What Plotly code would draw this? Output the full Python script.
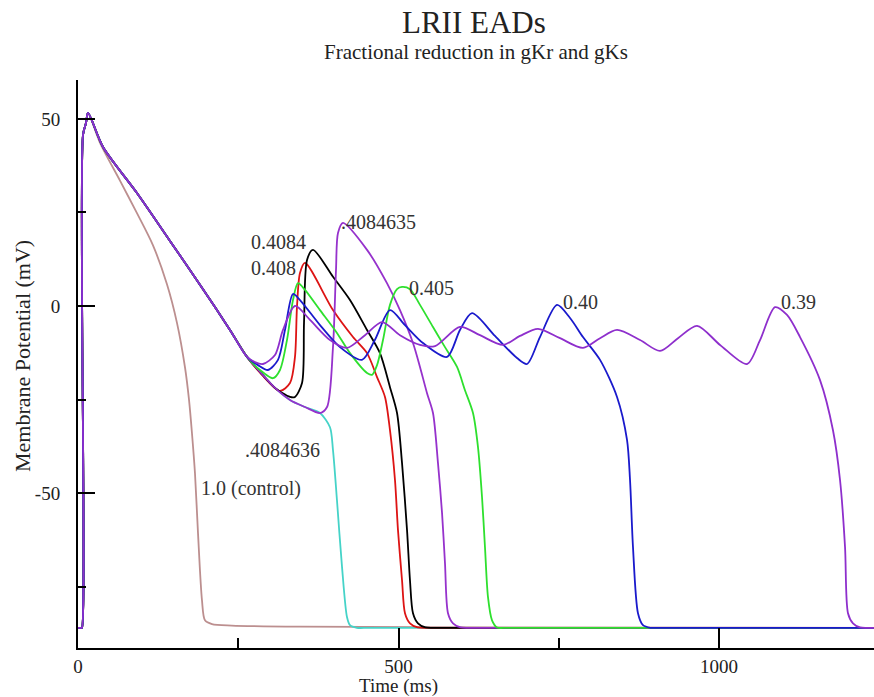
import plotly.graph_objects as go

# ---------------- data (time in ms, membrane potential in mV) ----------------
# shared upstroke + early plateau of every reduced-gK trace
t_common = [0, 5, 6.2, 7.8, 12.5, 15.6, 39, 92, 143.5, 195, 237.1, 263.7]
v_common = [-86, -86, -86, 45.7, 48.9, 51.6, 42.5, 30.2, 17.4, 4.5, -6.4, -13.6]

# lower envelope shared by the late-EAD traces
t_env = [283.9, 307.3, 330.7, 354.1, 377.5]
v_env = [-17.6, -21.9, -25.1, -27.0, -28.6]

# 1.0 (control)
t_control = [0, 5, 6.2, 7.8, 12.5, 15.6, 34.3, 65.5, 92, 117, 138.8, 154.4, 167, 173.2,
             177.8, 182.5, 187.2, 193.4, 198.1, 209, 240, 346, 700, 1242]
v_control = [-86, -86, -86, 45.7, 48.9, 51.6, 43.6, 33.5, 24.8, 16.2, 5.8, -4.5, -16.5, -25.1,
             -34, -44.7, -60.7, -78.6, -84, -85, -85.4, -85.7, -85.9, -86]

# .4084636
t_4084636 = [393.1, 397.8, 404, 411.9, 419.7, 424.3, 435, 455, 1242]
v_4084636 = [-32.4, -38.5, -51.9, -69.8, -83.2, -85.3, -86, -86, -86]

# 0.408
t_408 = [286, 315.1, 330.7, 338.5, 341.6, 346.3, 354.1, 397.8, 429, 450.9, 466.5, 478.9,
         486.7, 494.5, 499.2, 505.5, 510.1, 517.9, 530, 550, 1242]
v_408 = [-18.2, -22.7, -20.6, -13.6, -0.3, 8.8, 11.5, -1.1, -8.3, -12.6, -19, -24.3,
         -33.2, -46.5, -59.9, -73.3, -82.1, -84.8, -85.9, -86, -86]

# 0.4084
t_4084 = [283.9, 307.3, 330.7, 338.5, 349.5, 352.6, 357.3, 366.6, 397.8, 424.3, 450.9,
          471.1, 486.7, 497.7, 505.5, 513.3, 517.9, 522.6, 530.4, 542, 560, 1242]
v_4084 = [-17.6, -21.9, -24.3, -24.3, -20.6, -4.5, 12.3, 15.0, 7.8, 1.6, -6.4,
          -12.6, -21.7, -28.6, -42, -59.9, -73.3, -82.1, -84.8, -85.9, -86, -86]

# .4084635
t_4084635 = [388.5, 397.8, 402.5, 405.6, 413.4, 450.9, 482, 502.3, 522.6, 533.5, 544.5,
             553.8, 561.6, 567.9, 572.5, 577.2, 585, 597, 615, 1242]
v_4084635 = [-27, -11, 9.6, 19.5, 22.2, 15, 6.1, -1.1, -9.9, -16.3, -23.3,
             -28.6, -42, -55.3, -68.7, -82.1, -84.8, -85.9, -86, -86]

# 0.405
t_405 = [283.9, 304.2, 315.1, 326, 335.4, 343.2, 354.1, 377.5, 404, 424.3, 450.9, 458.7,
         466.5, 475.8, 486.7, 497.7, 505.5, 517.9, 533.5, 553.8, 572.5, 591.3, 603.7,
         616.2, 624, 630.3, 634.9, 639.6, 645.9, 653.7, 670, 1242]
v_405 = [-17.1, -19.3, -17.1, -9.1, 1.6, 6.1, 4.3, -1.1, -7.2, -12.6, -17.9, -18.4,
         -15.8, -9.1, 0.3, 4.5, 5.1, 4.5, 0.3, -5.6, -11, -16.3, -22.5,
         -28.6, -37.7, -51.1, -64.4, -77.8, -84, -85.9, -86, -86]

# 0.40
t_40 = [280.8, 296.4, 312, 322.9, 335.4, 346.3, 377.5, 408.7, 443, 463.1, 486.7, 510.1,
        538.2, 575.7, 595.9, 614.7, 650.5, 684.9, 700.5, 720.7, 747.3, 767.6, 787.8,
        814.4, 840.9, 856.5, 861.2, 865.8, 873.6, 881.4, 893, 910, 1242]
v_40 = [-15.8, -17.1, -14.4, -6.4, 3.2, 1.6, -5.1, -11, -14.4, -9.1, -1.1, -5.1,
        -9.9, -13.6, -6.4, -1.9, -8.0, -13.9, -15.5, -8.3, 0.3, -3.2, -8.3,
        -14.4, -24.3, -35.8, -46.5, -64.4, -82.1, -85.3, -86, -86, -86]

# 0.39
t_39 = [276.1, 288.6, 307.3, 319.8, 338.5, 361.9, 393.1, 419.7, 447.7, 474.3, 502.3,
        533.5, 557, 595.9, 627.1, 663, 689.5, 717.6, 752, 787.8, 814.4, 840.9, 876.8,
        908, 936, 965.7, 1001.6, 1043.7, 1064, 1087.4, 1106.1, 1126.4, 1157.6, 1177.8,
        1188.8, 1196.6, 1201.2, 1209, 1220, 1234, 1242]
v_39 = [-15, -15.5, -13.1, -6.4, 0, -3.7, -9.1, -11.2, -7.8, -4.3, -7.8,
        -10.4, -10.7, -5.6, -7.8, -10.4, -8, -6.1, -8.6, -11.2, -8.6, -6.4, -9.1,
        -12, -8.6, -5.3, -10.4, -15.5, -9.1, -0.3, -2.4, -8.3, -19.8, -33.2,
        -46.5, -64.4, -82.1, -84.8, -85.9, -86, -86]

# curve labels: text, time, potential
label_text = ["0.4084", "0.408", ".4084635", "0.405", "0.40", "0.39", ".4084636", "1.0 (control)"]
label_t = [266, 266, 407, 513, 754, 1094, 258, 188]
label_v = [17.1, 10.2, 22.5, 4.8, 1.1, 1.1, -38.5, -48.9]

# axis ticks
x_ticks = [0, 500, 1000]
x_minor = [250, 750]
y_ticks = [-50, 0, 50]
y_ticktext = ["-50", "0", "50"]
y_minor = [-75, -25, 25]

# ---------------- figure ----------------
series = [
    ("1.0 (control)", t_control, v_control, "#bc8f8f"),
    (".4084636", t_common + t_env + t_4084636, v_common + v_env + v_4084636, "#45d3c8"),
    ("0.408", t_common + t_408, v_common + v_408, "#dd1414"),
    ("0.4084", t_common + t_4084, v_common + v_4084, "#000000"),
    (".4084635", t_common + t_env + t_4084635, v_common + v_env + v_4084635, "#9632cc"),
    ("0.405", t_common + t_405, v_common + v_405, "#2ee02e"),
    ("0.40", t_common + t_40, v_common + v_40, "#1a1acc"),
    ("0.39", t_common + t_39, v_common + v_39, "#8e2fcc"),
]

fig = go.Figure()
for name, t, v, c in series:
    fig.add_trace(go.Scatter(x=t, y=v, mode="lines", name=name,
                             line=dict(color=c, width=1.8, shape="spline", smoothing=0.8),
                             hoverinfo="skip"))

SERIF = "Liberation Serif, Times New Roman, serif"

for txt, tx, vy in zip(label_text, label_t, label_v):
    fig.add_annotation(x=tx, y=vy, xref="x", yref="y", text=txt, showarrow=False,
                       xanchor="left", yanchor="middle",
                       font=dict(family=SERIF, size=20, color="#333333"))

fig.add_annotation(x=0.4975, y=1.102, xref="paper", yref="paper", text="LRII EADs",
                   showarrow=False, xanchor="center", yanchor="middle",
                   font=dict(family=SERIF, size=31, color="#222222"))
fig.add_annotation(x=0.5, y=1.049, xref="paper", yref="paper",
                   text="Fractional reduction in gKr and gKs",
                   showarrow=False, xanchor="center", yanchor="middle",
                   font=dict(family=SERIF, size=21, color="#222222"))
fig.add_annotation(x=500, y=-0.067, xref="x", yref="paper", text="Time (ms)",
                   showarrow=False, xanchor="center", yanchor="middle",
                   font=dict(family=SERIF, size=19, color="#222222"))
fig.add_annotation(x=-0.0704, y=0.514, xref="paper", yref="paper",
                   text="Membrane Potential (mV)", textangle=-90,
                   showarrow=False, xanchor="center", yanchor="middle",
                   font=dict(family=SERIF, size=22, color="#222222"))

axis_common = dict(showline=True, linecolor="black", linewidth=2, mirror=False,
                   showgrid=False, zeroline=False, ticks="inside", tickcolor="black",
                   tickwidth=2, tickfont=dict(family=SERIF, size=19, color="#222222"))

fig.update_xaxes(range=[0, 1241.8], tickvals=x_ticks, ticklen=20,
                 minor=dict(tickvals=x_minor, ticks="inside", ticklen=10,
                            tickcolor="black", tickwidth=2),
                 **axis_common)
fig.update_yaxes(range=[-91.4, 60.4], tickvals=y_ticks, ticktext=y_ticktext, ticklen=17,
                 ticklabelstandoff=12,
                 minor=dict(tickvals=y_minor, ticks="inside", ticklen=8,
                            tickcolor="black", tickwidth=2),
                 **axis_common)

fig.update_layout(width=874, height=697, margin=dict(l=78, r=0, t=80, b=49),
                  paper_bgcolor="white", plot_bgcolor="white", showlegend=False)

fig.write_html("out.html")
